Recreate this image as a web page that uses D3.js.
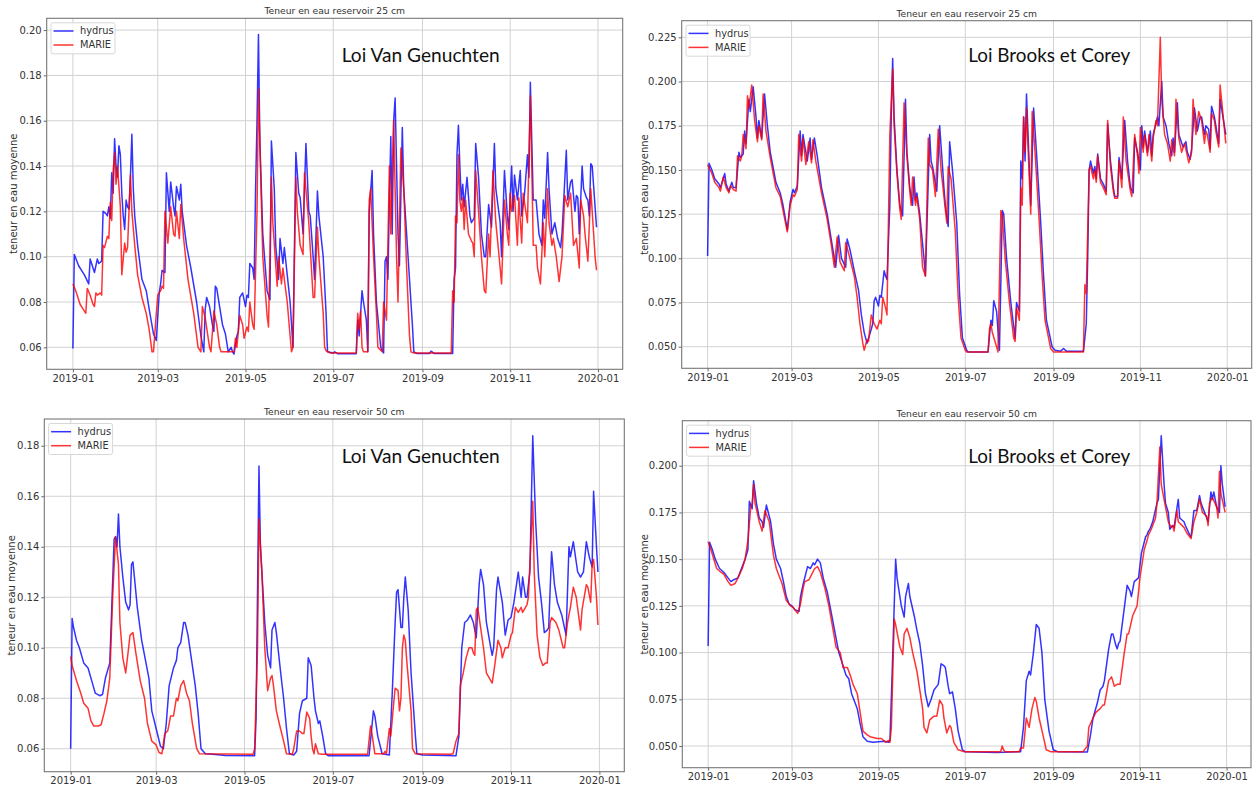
<!DOCTYPE html>
<html>
<head>
<meta charset="utf-8">
<script src="https://cdn.jsdelivr.net/npm/d3@7"></script>
<style>
  body { margin: 0; background: #fff; }
  svg text { font-family: "DejaVu Sans", sans-serif; fill: #333; }
</style>
</head>
<body>
<svg id="chart" width="1253" height="785"></svg>
<script>
// [day of 2019, teneur en eau] pairs
const vgHydrus25 = [[0,0.0595],[1,0.101],[4,0.096],[8,0.092],[11,0.088],[12,0.099],[15,0.093],[17,0.099],[18,0.097],[20,0.098],[21,0.12],[23,0.119],[24,0.118],[25,0.122],[26,0.117],[27,0.137],[28,0.128],[29,0.152],[30,0.14],[31,0.135],[32,0.149],[33,0.145],[34,0.128],[35,0.118],[36,0.112],[37,0.125],[38,0.122],[39,0.121],[40,0.135],[41,0.154],[42,0.13],[43,0.118],[45,0.105],[48,0.09],[51,0.085],[53,0.077],[56,0.066],[58,0.063],[60,0.084],[61,0.088],[62,0.094],[64,0.093],[65,0.137],[67,0.12],[68,0.133],[70,0.122],[71,0.118],[72,0.131],[74,0.125],[75,0.132],[76,0.12],[79,0.105],[82,0.095],[86,0.08],[89,0.065],[91,0.058],[92,0.077],[93,0.082],[95,0.078],[97,0.07],[98,0.067],[99,0.087],[100,0.086],[102,0.078],[104,0.07],[106,0.066],[108,0.058],[110,0.06],[111,0.058],[112,0.057],[114,0.065],[115,0.067],[116,0.082],[118,0.084],[120,0.078],[121,0.083],[122,0.082],[123,0.097],[125,0.095],[126,0.09],[127,0.13],[128,0.16],[129,0.198],[130,0.15],[132,0.11],[135,0.085],[137,0.081],[138,0.151],[140,0.13],[141,0.105],[143,0.09],[144,0.108],[146,0.097],[147,0.104],[149,0.092],[151,0.08],[153,0.06],[155,0.146],[157,0.128],[158,0.126],[160,0.11],[162,0.15],[164,0.12],[165,0.118],[167,0.1],[168,0.09],[170,0.129],[171,0.118],[174,0.1],[176,0.075],[177,0.058],[181,0.0575],[182,0.058],[184,0.0572],[197,0.0572],[198,0.072],[199,0.065],[201,0.085],[202,0.08],[204,0.072],[205,0.058],[206,0.12],[208,0.138],[209,0.11],[211,0.08],[214,0.06],[216,0.0575],[217,0.098],[218,0.1],[219,0.09],[220,0.125],[221,0.153],[222,0.11],[223,0.16],[224,0.17],[225,0.14],[226,0.11],[227,0.096],[229,0.157],[230,0.13],[233,0.1],[236,0.07],[237,0.058],[239,0.0573],[248,0.0573],[249,0.0583],[251,0.0573],[264,0.0573],[265,0.09],[266,0.095],[267,0.145],[268,0.158],[269,0.14],[270,0.125],[271,0.132],[272,0.122],[274,0.135],[276,0.118],[277,0.115],[279,0.117],[280,0.15],[282,0.135],[284,0.11],[286,0.1],[287,0.1],[289,0.123],[291,0.113],[293,0.15],[294,0.13],[297,0.115],[298,0.1],[300,0.138],[302,0.118],[303,0.112],[305,0.14],[306,0.12],[307,0.136],[309,0.125],[311,0.138],[312,0.118],[314,0.128],[316,0.145],[317,0.135],[318,0.177],[320,0.125],[322,0.125],[324,0.11],[326,0.105],[327,0.125],[328,0.117],[330,0.146],[331,0.13],[333,0.11],[335,0.115],[337,0.108],[339,0.104],[340,0.11],[343,0.147],[344,0.125],[346,0.133],[347,0.134],[349,0.12],[350,0.127],[351,0.126],[352,0.11],[354,0.14],[355,0.13],[357,0.126],[358,0.125],[359,0.118],[360,0.141],[361,0.14],[364,0.113]];
const vgMarie25 = [[0,0.088],[2,0.085],[5,0.079],[7,0.077],[9,0.075],[10,0.086],[12,0.083],[14,0.079],[15,0.078],[16,0.084],[17,0.083],[19,0.084],[20,0.083],[21,0.105],[22,0.104],[24,0.109],[25,0.108],[26,0.124],[27,0.116],[28,0.138],[29,0.146],[30,0.132],[31,0.14],[33,0.122],[34,0.092],[36,0.106],[37,0.102],[38,0.104],[40,0.136],[41,0.12],[43,0.105],[45,0.092],[48,0.082],[51,0.075],[53,0.068],[55,0.058],[56,0.058],[58,0.075],[59,0.083],[61,0.085],[62,0.087],[63,0.086],[64,0.12],[66,0.106],[68,0.122],[70,0.11],[71,0.109],[72,0.12],[74,0.108],[75,0.123],[77,0.108],[80,0.09],[84,0.075],[87,0.06],[89,0.058],[90,0.078],[92,0.073],[95,0.06],[96,0.058],[98,0.076],[100,0.07],[102,0.06],[103,0.058],[112,0.058],[113,0.064],[114,0.06],[116,0.074],[118,0.07],[119,0.064],[121,0.069],[122,0.067],[123,0.08],[125,0.07],[126,0.068],[128,0.12],[129,0.174],[130,0.15],[132,0.1],[135,0.074],[136,0.069],[138,0.135],[139,0.115],[142,0.087],[143,0.1],[145,0.088],[146,0.095],[149,0.08],[151,0.065],[152,0.058],[153,0.06],[155,0.135],[156,0.12],[158,0.105],[160,0.101],[161,0.137],[164,0.115],[167,0.082],[168,0.082],[170,0.113],[171,0.1],[174,0.075],[175,0.06],[176,0.0585],[179,0.0575],[197,0.0575],[198,0.075],[199,0.068],[200,0.076],[201,0.06],[202,0.058],[205,0.058],[206,0.125],[207,0.13],[209,0.1],[211,0.075],[212,0.06],[215,0.058],[216,0.08],[218,0.072],[220,0.14],[221,0.11],[223,0.16],[225,0.1],[226,0.08],[228,0.148],[230,0.13],[232,0.095],[234,0.065],[235,0.058],[237,0.0575],[263,0.0575],[264,0.085],[265,0.08],[266,0.118],[267,0.115],[268,0.145],[269,0.125],[270,0.12],[271,0.126],[272,0.112],[273,0.125],[275,0.11],[277,0.107],[278,0.106],[279,0.1],[280,0.138],[282,0.12],[284,0.1],[286,0.085],[287,0.084],[289,0.11],[290,0.1],[292,0.138],[294,0.115],[296,0.102],[298,0.088],[300,0.125],[302,0.11],[303,0.105],[304,0.128],[305,0.12],[307,0.127],[309,0.105],[310,0.126],[312,0.106],[313,0.128],[316,0.115],[318,0.171],[319,0.14],[320,0.105],[322,0.105],[323,0.095],[325,0.088],[327,0.115],[328,0.1],[330,0.13],[331,0.115],[333,0.105],[334,0.108],[336,0.1],[338,0.089],[340,0.1],[342,0.127],[344,0.122],[346,0.128],[348,0.105],[350,0.108],[352,0.095],[353,0.125],[355,0.118],[356,0.11],[358,0.098],[360,0.13],[362,0.11],[363,0.1],[364,0.094]];

const bcHydrus25 = [[0,0.1013],[1,0.1538],[3,0.15],[5,0.145],[8,0.142],[9,0.14],[12,0.148],[13,0.142],[15,0.138],[17,0.143],[18,0.14],[20,0.14],[22,0.16],[23,0.157],[25,0.159],[26,0.172],[27,0.165],[29,0.19],[30,0.183],[32,0.197],[34,0.18],[35,0.168],[36,0.178],[38,0.168],[40,0.193],[42,0.175],[44,0.16],[48,0.143],[51,0.137],[53,0.13],[56,0.116],[58,0.132],[60,0.139],[61,0.137],[63,0.141],[65,0.172],[66,0.158],[67,0.17],[70,0.155],[72,0.168],[73,0.156],[75,0.168],[77,0.158],[80,0.14],[84,0.125],[87,0.11],[90,0.095],[92,0.113],[94,0.1],[97,0.095],[98,0.111],[100,0.105],[103,0.093],[106,0.082],[108,0.068],[110,0.058],[112,0.052],[115,0.06],[116,0.063],[117,0.076],[118,0.078],[120,0.073],[121,0.079],[122,0.078],[124,0.093],[125,0.09],[126,0.088],[128,0.13],[129,0.18],[130,0.213],[131,0.18],[133,0.15],[135,0.13],[137,0.124],[139,0.19],[140,0.16],[142,0.14],[144,0.13],[145,0.146],[146,0.133],[147,0.137],[149,0.125],[152,0.1],[153,0.09],[156,0.17],[157,0.155],[158,0.152],[161,0.138],[163,0.175],[165,0.152],[166,0.14],[167,0.13],[169,0.118],[170,0.166],[172,0.15],[175,0.12],[177,0.08],[179,0.055],[182,0.048],[183,0.047],[197,0.047],[199,0.065],[200,0.062],[201,0.076],[203,0.07],[205,0.048],[207,0.127],[208,0.125],[210,0.1],[213,0.075],[216,0.055],[217,0.075],[219,0.07],[220,0.155],[221,0.145],[222,0.18],[223,0.155],[224,0.193],[227,0.13],[229,0.185],[231,0.16],[234,0.12],[236,0.09],[238,0.065],[242,0.05],[244,0.048],[248,0.0475],[250,0.049],[252,0.0475],[264,0.0475],[265,0.055],[266,0.063],[267,0.1],[268,0.15],[269,0.155],[271,0.148],[272,0.152],[273,0.145],[274,0.159],[276,0.145],[278,0.142],[280,0.138],[281,0.176],[283,0.155],[285,0.14],[286,0.135],[288,0.135],[289,0.157],[291,0.145],[293,0.178],[295,0.155],[297,0.14],[299,0.137],[300,0.168],[302,0.16],[304,0.15],[305,0.175],[306,0.163],[307,0.172],[309,0.16],[311,0.172],[312,0.158],[313,0.17],[316,0.18],[317,0.175],[319,0.2],[320,0.18],[322,0.175],[324,0.165],[326,0.158],[327,0.168],[328,0.16],[330,0.188],[331,0.17],[334,0.163],[336,0.166],[337,0.16],[339,0.156],[340,0.162],[342,0.185],[344,0.172],[346,0.18],[347,0.18],[349,0.17],[350,0.175],[352,0.173],[353,0.162],[354,0.186],[356,0.18],[357,0.175],[359,0.165],[360,0.19],[361,0.185],[364,0.17]];
const bcMarie25 = [[0,0.153],[3,0.148],[5,0.143],[8,0.14],[9,0.138],[11,0.146],[13,0.14],[15,0.137],[16,0.141],[18,0.139],[20,0.138],[21,0.158],[23,0.155],[24,0.158],[25,0.17],[27,0.162],[28,0.192],[29,0.185],[31,0.198],[33,0.178],[35,0.166],[36,0.175],[38,0.167],[39,0.193],[41,0.172],[44,0.157],[48,0.14],[51,0.135],[53,0.127],[56,0.115],[58,0.13],[60,0.136],[61,0.135],[63,0.139],[64,0.17],[66,0.155],[67,0.168],[69,0.153],[71,0.166],[73,0.154],[74,0.167],[76,0.155],[80,0.137],[84,0.122],[87,0.107],[89,0.095],[91,0.112],[93,0.098],[96,0.093],[97,0.109],[99,0.103],[103,0.09],[105,0.078],[107,0.063],[109,0.052],[110,0.048],[112,0.054],[113,0.053],[115,0.068],[117,0.063],[119,0.06],[121,0.065],[122,0.063],[123,0.078],[125,0.072],[126,0.068],[127,0.12],[128,0.17],[130,0.207],[131,0.175],[133,0.148],[135,0.128],[136,0.122],[138,0.188],[140,0.158],[142,0.138],[143,0.13],[144,0.146],[146,0.13],[147,0.135],[149,0.122],[151,0.095],[153,0.09],[155,0.168],[156,0.153],[158,0.15],[160,0.135],[162,0.173],[164,0.15],[166,0.135],[168,0.12],[169,0.152],[171,0.145],[174,0.115],[176,0.078],[178,0.055],[181,0.048],[182,0.047],[197,0.047],[198,0.06],[199,0.063],[200,0.058],[203,0.05],[204,0.047],[206,0.127],[207,0.124],[209,0.1],[212,0.075],[215,0.055],[216,0.053],[217,0.072],[219,0.065],[220,0.14],[221,0.13],[222,0.18],[223,0.16],[224,0.185],[227,0.125],[228,0.183],[230,0.16],[233,0.12],[235,0.09],[237,0.065],[241,0.049],[243,0.047],[264,0.047],[265,0.085],[266,0.08],[267,0.115],[268,0.15],[269,0.152],[271,0.145],[272,0.15],[273,0.143],[274,0.158],[276,0.143],[278,0.14],[280,0.136],[281,0.178],[283,0.152],[285,0.138],[286,0.134],[288,0.134],[289,0.155],[291,0.14],[292,0.18],[294,0.155],[297,0.138],[298,0.135],[300,0.17],[302,0.158],[303,0.148],[304,0.174],[306,0.16],[307,0.17],[309,0.158],[310,0.17],[312,0.155],[313,0.168],[315,0.178],[316,0.175],[318,0.225],[319,0.19],[321,0.17],[323,0.165],[325,0.155],[326,0.167],[328,0.158],[329,0.19],[331,0.168],[333,0.16],[335,0.165],[337,0.158],[338,0.154],[340,0.16],[341,0.19],[343,0.17],[345,0.183],[347,0.178],[349,0.165],[350,0.172],[351,0.17],[353,0.16],[354,0.182],[356,0.178],[357,0.172],[359,0.163],[360,0.198],[361,0.19],[364,0.165]];

const vgHydrus50 = [[0,0.06],[1,0.1116],[2,0.108],[4,0.103],[6,0.1],[9,0.094],[12,0.092],[15,0.086],[17,0.082],[20,0.081],[22,0.0815],[24,0.088],[27,0.094],[28,0.11],[30,0.143],[31,0.144],[32,0.14],[33,0.153],[34,0.14],[36,0.128],[38,0.118],[40,0.115],[41,0.117],[42,0.133],[43,0.134],[44,0.128],[46,0.116],[49,0.103],[51,0.097],[54,0.088],[56,0.075],[59,0.068],[62,0.061],[64,0.06],[66,0.07],[68,0.085],[71,0.092],[73,0.095],[74,0.1],[76,0.102],[78,0.11],[79,0.11],[81,0.105],[83,0.097],[86,0.085],[88,0.074],[90,0.06],[93,0.058],[98,0.0578],[107,0.0573],[127,0.0572],[128,0.072],[130,0.172],[131,0.14],[134,0.11],[136,0.097],[138,0.092],[139,0.107],[141,0.11],[142,0.106],[145,0.09],[147,0.08],[149,0.068],[151,0.058],[154,0.0575],[156,0.059],[158,0.074],[160,0.079],[163,0.08],[164,0.096],[166,0.093],[168,0.08],[169,0.075],[171,0.07],[172,0.071],[174,0.065],[176,0.058],[178,0.0572],[206,0.0572],[209,0.075],[210,0.073],[212,0.065],[215,0.058],[220,0.0575],[221,0.07],[222,0.082],[224,0.11],[225,0.122],[226,0.123],[228,0.108],[229,0.108],[230,0.12],[231,0.128],[233,0.115],[235,0.09],[238,0.065],[239,0.058],[243,0.0575],[266,0.0572],[268,0.065],[270,0.1],[272,0.11],[274,0.111],[276,0.113],[278,0.11],[280,0.104],[282,0.125],[283,0.131],[285,0.125],[287,0.11],[290,0.1],[291,0.097],[292,0.1],[294,0.123],[295,0.128],[298,0.118],[300,0.105],[302,0.111],[304,0.112],[306,0.118],[309,0.13],[311,0.12],[312,0.128],[314,0.12],[315,0.12],[317,0.13],[319,0.184],[321,0.15],[323,0.128],[325,0.118],[327,0.106],[329,0.107],[330,0.108],[332,0.138],[334,0.125],[336,0.118],[339,0.113],[342,0.105],[344,0.14],[345,0.136],[347,0.142],[350,0.13],[352,0.128],[354,0.13],[356,0.142],[358,0.136],[360,0.132],[361,0.162],[363,0.14],[364,0.13]];
const vgMarie50 = [[0,0.0965],[1,0.093],[4,0.087],[7,0.082],[9,0.078],[12,0.076],[14,0.071],[16,0.069],[19,0.069],[21,0.0695],[23,0.074],[25,0.079],[27,0.088],[29,0.12],[31,0.144],[33,0.133],[34,0.11],[36,0.096],[38,0.09],[41,0.105],[43,0.106],[45,0.098],[48,0.087],[51,0.08],[53,0.07],[56,0.063],[59,0.0615],[61,0.0585],[63,0.058],[65,0.066],[67,0.067],[69,0.073],[71,0.073],[73,0.08],[74,0.079],[76,0.085],[78,0.087],[80,0.082],[82,0.079],[84,0.07],[87,0.06],[89,0.058],[126,0.0578],[127,0.06],[129,0.1],[130,0.151],[132,0.13],[134,0.1],[136,0.083],[138,0.088],[139,0.089],[140,0.085],[142,0.075],[144,0.07],[147,0.063],[149,0.058],[153,0.0578],[154,0.06],[156,0.067],[158,0.067],[160,0.066],[161,0.066],[163,0.0745],[165,0.072],[166,0.065],[167,0.06],[168,0.058],[169,0.062],[171,0.058],[174,0.0578],[205,0.0578],[207,0.069],[208,0.066],[210,0.058],[216,0.058],[217,0.059],[218,0.058],[220,0.068],[221,0.065],[223,0.078],[224,0.084],[226,0.083],[227,0.075],[228,0.08],[229,0.1],[230,0.105],[231,0.103],[232,0.095],[235,0.075],[236,0.06],[238,0.058],[262,0.0578],[264,0.058],[266,0.063],[268,0.066],[269,0.085],[271,0.09],[273,0.096],[275,0.1],[277,0.1],[278,0.098],[279,0.097],[280,0.115],[281,0.116],[282,0.112],[285,0.1],[287,0.09],[289,0.088],[291,0.086],[293,0.094],[295,0.103],[297,0.1],[298,0.096],[300,0.1],[302,0.1],[304,0.105],[305,0.106],[307,0.116],[309,0.114],[311,0.116],[312,0.114],[315,0.117],[316,0.12],[319,0.158],[320,0.13],[322,0.105],[324,0.096],[326,0.093],[328,0.094],[329,0.094],[331,0.11],[332,0.112],[335,0.11],[337,0.107],[340,0.1],[341,0.1],[343,0.11],[345,0.116],[347,0.124],[349,0.12],[352,0.107],[353,0.115],[356,0.125],[357,0.124],[359,0.118],[360,0.133],[361,0.135],[363,0.12],[364,0.109]];

const bcHydrus50 = [[0,0.1035],[1,0.159],[3,0.155],[5,0.15],[8,0.145],[11,0.143],[14,0.14],[16,0.138],[18,0.139],[21,0.14],[24,0.146],[26,0.15],[28,0.155],[29,0.181],[31,0.177],[32,0.192],[34,0.18],[36,0.172],[38,0.17],[39,0.167],[41,0.179],[44,0.17],[46,0.158],[48,0.15],[51,0.145],[53,0.138],[55,0.13],[57,0.126],[59,0.125],[61,0.123],[64,0.122],[65,0.13],[67,0.137],[70,0.146],[72,0.145],[74,0.148],[75,0.147],[77,0.15],[79,0.148],[81,0.14],[84,0.132],[87,0.12],[90,0.108],[92,0.1],[95,0.093],[97,0.088],[99,0.086],[101,0.078],[105,0.07],[107,0.062],[109,0.055],[112,0.0525],[116,0.052],[124,0.0525],[127,0.052],[128,0.053],[130,0.1],[132,0.15],[133,0.14],[136,0.125],[138,0.119],[139,0.13],[141,0.137],[142,0.13],[145,0.12],[147,0.112],[149,0.105],[151,0.093],[153,0.078],[155,0.071],[157,0.075],[159,0.08],[162,0.083],[164,0.094],[166,0.093],[167,0.092],[169,0.082],[170,0.078],[172,0.079],[174,0.07],[176,0.058],[179,0.048],[181,0.047],[203,0.0465],[220,0.047],[222,0.06],[224,0.085],[226,0.09],[227,0.088],[229,0.1],[231,0.115],[233,0.113],[235,0.1],[237,0.075],[240,0.058],[243,0.048],[246,0.047],[267,0.0468],[269,0.055],[271,0.065],[274,0.073],[276,0.08],[278,0.082],[279,0.085],[282,0.102],[284,0.11],[285,0.11],[287,0.104],[288,0.102],[289,0.105],[290,0.106],[294,0.13],[295,0.136],[297,0.133],[298,0.13],[300,0.138],[303,0.14],[305,0.153],[308,0.162],[309,0.163],[310,0.165],[311,0.166],[313,0.17],[316,0.18],[317,0.182],[319,0.216],[321,0.19],[322,0.18],[324,0.175],[325,0.166],[327,0.168],[328,0.167],[331,0.182],[332,0.172],[335,0.17],[336,0.168],[339,0.163],[340,0.162],[342,0.176],[344,0.176],[346,0.184],[347,0.18],[349,0.176],[352,0.17],[354,0.186],[355,0.182],[356,0.186],[358,0.178],[360,0.175],[361,0.2],[362,0.19],[364,0.178]];
const bcMarie50 = [[0,0.1593],[2,0.155],[4,0.15],[6,0.145],[9,0.143],[11,0.142],[14,0.138],[16,0.136],[19,0.137],[21,0.14],[24,0.145],[26,0.15],[28,0.16],[30,0.178],[31,0.18],[32,0.19],[33,0.18],[36,0.17],[38,0.165],[40,0.176],[43,0.17],[46,0.152],[48,0.145],[52,0.137],[55,0.128],[58,0.125],[60,0.124],[63,0.121],[65,0.126],[67,0.135],[68,0.138],[71,0.139],[73,0.142],[75,0.145],[77,0.146],[79,0.143],[82,0.135],[85,0.125],[88,0.112],[90,0.103],[93,0.1],[95,0.092],[98,0.092],[100,0.088],[102,0.083],[105,0.078],[107,0.068],[109,0.058],[112,0.056],[114,0.055],[119,0.054],[122,0.054],[125,0.052],[127,0.053],[128,0.052],[129,0.06],[131,0.118],[132,0.115],[135,0.103],[137,0.099],[138,0.11],[140,0.113],[142,0.108],[144,0.1],[147,0.09],[149,0.08],[151,0.07],[152,0.06],[154,0.057],[156,0.064],[159,0.066],[161,0.066],[163,0.0745],[165,0.072],[166,0.065],[168,0.057],[170,0.061],[171,0.06],[173,0.052],[176,0.048],[180,0.047],[206,0.047],[207,0.05],[208,0.048],[209,0.047],[219,0.047],[220,0.049],[222,0.049],[224,0.065],[226,0.06],[228,0.07],[230,0.076],[231,0.074],[233,0.065],[236,0.055],[238,0.048],[241,0.047],[264,0.047],[267,0.05],[268,0.06],[271,0.065],[273,0.068],[276,0.07],[278,0.072],[279,0.072],[282,0.085],[284,0.087],[286,0.082],[288,0.083],[290,0.083],[293,0.1],[295,0.11],[296,0.11],[299,0.12],[302,0.125],[304,0.14],[307,0.155],[309,0.16],[310,0.163],[312,0.166],[315,0.172],[316,0.18],[318,0.21],[319,0.19],[322,0.178],[324,0.17],[326,0.167],[327,0.168],[328,0.165],[330,0.176],[331,0.17],[335,0.167],[337,0.164],[340,0.161],[342,0.17],[344,0.175],[346,0.182],[348,0.175],[351,0.173],[352,0.168],[353,0.18],[355,0.183],[358,0.178],[359,0.172],[360,0.197],[361,0.185],[364,0.175]];

const ticks25vg = [0.06, 0.08, 0.10, 0.12, 0.14, 0.16, 0.18, 0.20];
const ticks25bc = [0.050, 0.075, 0.100, 0.125, 0.150, 0.175, 0.200, 0.225];
const ticks50vg = [0.06, 0.08, 0.10, 0.12, 0.14, 0.16, 0.18];
const ticks50bc = [0.050, 0.075, 0.100, 0.125, 0.150, 0.175, 0.200];
const seriesNames = ["hydrus", "MARIE"];
const seriesColors = ["blue", "red"];

const panels = [
  { title: "Teneur en eau reservoir 25 cm", law: "Loi Van Genuchten", data: [vgHydrus25, vgMarie25],
    box: [46.7, 18.3, 622.7, 369.3], yDomain: [0.0503, 0.2052], yTicks: ticks25vg, fmt: ".2f",
    ylabX: 13.5, lawX: 341.7, lawY: 61.5, lawW: 158 },
  { title: "Teneur en eau reservoir 25 cm", law: "Loi Brooks et Corey", data: [bcHydrus25, bcMarie25],
    box: [681.7, 20.7, 1251.7, 368.3], yDomain: [0.0378, 0.2344], yTicks: ticks25bc, fmt: ".3f",
    ylabX: 644, lawX: 968.3, lawY: 61.5, lawW: 162 },
  { title: "Teneur en eau reservoir 50 cm", law: "Loi Van Genuchten", data: [vgHydrus50, vgMarie50],
    box: [44.3, 419, 624.3, 771.7], yDomain: [0.0509, 0.1906], yTicks: ticks50vg, fmt: ".2f",
    ylabX: 11.5, lawX: 341.7, lawY: 462.5, lawW: 158 },
  { title: "Teneur en eau reservoir 50 cm", law: "Loi Brooks et Corey", data: [bcHydrus50, bcMarie50],
    box: [682.3, 420.7, 1251, 767.7], yDomain: [0.0384, 0.2241], yTicks: ticks50bc, fmt: ".3f",
    ylabX: 644, lawX: 968.3, lawY: 462.5, lawW: 162 }
];

const t0 = Date.UTC(2019, 0, 1);
const toDate = d => new Date(t0 + d * 864e5);
const xTicks = d3.utcMonth.every(2).range(new Date(t0), new Date(Date.UTC(2020, 0, 2)));
const monthFormat = d3.utcFormat("%Y-%m");

const svg = d3.select("#chart");

panels.forEach((p, i) => {
  const [left, top, right, bottom] = p.box;
  const x = d3.scaleUtc().domain([toDate(-18.2), toDate(382.2)]).range([left, right]);
  const y = d3.scaleLinear().domain(p.yDomain).range([bottom, top]);
  const g = svg.append("g");

  // grid
  g.append("g").selectAll("line").data(xTicks).join("line")
    .attr("x1", d => x(d)).attr("x2", d => x(d))
    .attr("y1", top).attr("y2", bottom)
    .attr("stroke", "#d2d2d2").attr("stroke-width", 1);
  g.append("g").selectAll("line").data(p.yTicks).join("line")
    .attr("x1", left).attr("x2", right)
    .attr("y1", d => y(d)).attr("y2", d => y(d))
    .attr("stroke", "#d2d2d2").attr("stroke-width", 1);

  // axes
  const xAxis = g.append("g")
    .attr("transform", `translate(0,${bottom})`)
    .call(d3.axisBottom(x).tickValues(xTicks).tickFormat(monthFormat).tickSize(3).tickPadding(2.5));
  const yAxis = g.append("g")
    .attr("transform", `translate(${left},0)`)
    .call(d3.axisLeft(y).tickValues(p.yTicks).tickFormat(d3.format(p.fmt)).tickSize(3).tickPadding(2));
  [xAxis, yAxis].forEach(a => {
    a.select(".domain").remove();
    a.selectAll(".tick line").attr("stroke", "#666");
    a.selectAll(".tick text").style("font-size", "10px").style("fill", "#333");
  });

  // series
  const clipId = "clip" + i;
  g.append("clipPath").attr("id", clipId).append("rect")
    .attr("x", left).attr("y", top).attr("width", right - left).attr("height", bottom - top);
  const line = d3.line().x(d => x(toDate(d[0]))).y(d => y(d[1]));
  p.data.forEach((s, k) => {
    g.append("path")
      .attr("clip-path", `url(#${clipId})`)
      .attr("d", line(s))
      .attr("fill", "none")
      .attr("stroke", seriesColors[k])
      .attr("stroke-opacity", 0.8)
      .attr("stroke-width", 1.5)
      .attr("stroke-linejoin", "round");
  });

  // frame
  g.append("rect")
    .attr("x", left).attr("y", top).attr("width", right - left).attr("height", bottom - top)
    .attr("fill", "none").attr("stroke", "#777").attr("stroke-width", 1.1);

  // title and y label
  g.append("text")
    .attr("x", (left + right) / 2).attr("y", top - 4)
    .attr("text-anchor", "middle").style("font-size", "9.2px")
    .text(p.title);
  g.append("text")
    .attr("transform", `translate(${p.ylabX},${(top + bottom) / 2}) rotate(-90)`)
    .attr("dy", "0.35em").attr("text-anchor", "middle").style("font-size", "10px")
    .text("teneur en eau moyenne");

  // model name
  g.append("text")
    .attr("x", p.lawX).attr("y", p.lawY)
    .attr("textLength", p.lawW).attr("lengthAdjust", "spacingAndGlyphs")
    .style("font-family", "Lato, 'Open Sans', sans-serif").style("font-size", "19.5px").style("fill", "#111")
    .text(p.law);

  // legend
  const lg = g.append("g").attr("transform", `translate(${left + 4.3},${top + 4.5})`);
  lg.append("rect")
    .attr("width", 64).attr("height", 31).attr("rx", 2)
    .attr("fill", "#fff").attr("fill-opacity", 0.8)
    .attr("stroke", "#d8d8d8");
  seriesNames.forEach((n, k) => {
    const ly = 8.2 + k * 14;
    lg.append("line")
      .attr("x1", 2.5).attr("x2", 22.5).attr("y1", ly).attr("y2", ly)
      .attr("stroke", seriesColors[k]).attr("stroke-opacity", 0.8).attr("stroke-width", 1.5);
    lg.append("text")
      .attr("x", 29).attr("y", ly).attr("dy", "0.35em")
      .style("font-size", "9.8px")
      .text(n);
  });
});
</script>
</body>
</html>
